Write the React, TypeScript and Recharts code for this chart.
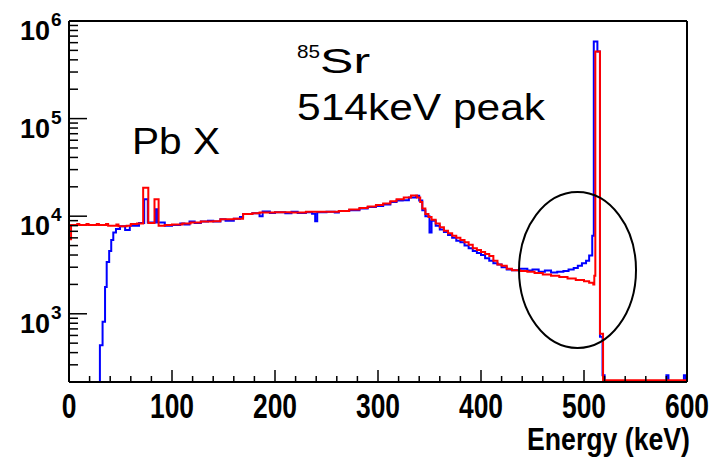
import React from 'react';
import { LineChart, Line, XAxis, YAxis, ReferenceDot } from 'recharts';

// Histogram bin starts (keV) and counts
const blueEnergy = [30, 30, 32.6, 35, 36.6, 39, 41, 43, 45.6, 49.5, 54.5, 59, 68, 73, 76.5, 84, 86, 93, 100, 108, 112, 117, 122, 128, 135, 140, 147, 152, 160, 166, 169, 178, 185, 188, 195, 200, 210, 216, 222, 230, 236, 239, 241, 250, 258, 262, 272, 282, 290, 298, 305, 312, 318, 324, 330, 337, 340, 343, 346, 350, 352, 356, 360, 364, 368, 372, 376, 380, 384, 388, 392, 396, 400, 404, 408, 412, 416, 420, 425, 430, 438, 445, 450, 456, 462, 468, 474, 480, 485, 490, 494, 498, 502, 505, 508, 509.5, 513, 515.5, 518, 520, 580, 582, 597, 599, 600];
const blueCounts = [200, 475, 830, 1880, 3400, 4400, 5700, 6800, 7400, 7900, 7200, 8000, 8500, 14900, 8600, 11800, 8600, 8000, 8100, 8400, 8200, 8800, 8500, 8800, 9000, 8800, 9300, 9000, 9400, 9800, 10500, 10700, 10000, 11200, 10800, 11000, 10700, 11100, 10800, 11000, 10600, 8900, 11000, 11100, 10900, 11300, 11500, 12000, 12400, 12700, 13200, 14000, 14500, 14600, 15500, 16200, 14500, 11500, 10000, 6800, 9000, 8000, 7300, 6900, 6400, 6000, 5600, 5400, 5000, 4700, 4400, 4200, 4000, 3700, 3500, 3300, 3200, 3000, 2850, 2800, 2900, 2780, 2850, 2700, 2780, 2650, 2700, 2750, 2850, 2950, 3100, 3300, 3500, 3950, 6300, 615000, 487000, 580, 234, 200, 234, 200, 234, 200, 200];

const redEnergy = [0, 2, 8, 10, 17, 19, 27, 29, 36, 38, 46, 48, 56, 60, 66, 72, 77, 83, 87, 93, 100, 110, 118, 128, 140, 147, 160, 169, 178, 185, 200, 215, 230, 250, 262, 272, 282, 290, 298, 305, 312, 318, 325, 332, 338, 341, 343, 346, 349, 352, 356, 360, 364, 368, 372, 376, 380, 384, 388, 392, 396, 400, 404, 408, 412, 416, 420, 425, 430, 438, 445, 452, 460, 468, 476, 484, 492, 500, 505, 509, 510, 511, 515.5, 518.5, 600];
const redCounts = [5800, 8100, 8300, 8100, 8300, 8100, 8300, 8100, 8300, 8000, 8200, 7900, 8000, 8300, 8400, 19600, 8500, 14900, 8000, 8100, 8200, 8400, 8600, 8800, 8900, 9300, 9400, 10500, 10700, 10900, 11000, 10900, 11100, 11100, 11300, 11700, 12100, 12600, 13000, 13500, 14200, 14900, 15500, 16300, 15500, 14000, 12000, 10500, 9800, 9200, 8400, 7700, 7100, 6700, 6300, 6000, 5700, 5400, 5100, 4700, 4500, 4300, 4100, 3900, 3500, 3200, 3100, 2900, 2800, 2750, 2700, 2620, 2520, 2450, 2380, 2300, 2220, 2150, 2080, 2000, 2450, 487000, 625, 209, 209];

const xTicks = [0, 20, 40, 60, 80, 100, 120, 140, 160, 180, 200, 220, 240, 260, 280, 300, 320, 340, 360, 380, 400, 420, 440, 460, 480, 500, 520, 540, 560, 580, 600];
const xLabelValues = [0, 100, 200, 300, 400, 500, 600];
const yTicks = [200, 300, 400, 500, 600, 700, 800, 900, 1000, 2000, 3000, 4000, 5000, 6000, 7000, 8000, 9000, 10000, 20000, 30000, 40000, 50000, 60000, 70000, 80000, 90000, 100000, 200000, 300000, 400000, 500000, 600000, 700000, 800000, 900000, 1000000];
const yDecades = [1000, 10000, 100000, 1000000];

const blueData = blueEnergy.map((e, i) => ({ e, v: blueCounts[i] }));
const redData = redEnergy.map((e, i) => ({ e, v: redCounts[i] }));

const SANS = "'Liberation Sans', Arial, sans-serif";

const XTick = (props: any) => {
  const { x, y, payload } = props;
  const v = payload.value;
  const major = xLabelValues.includes(v);
  const label = String(v);
  return (
    <g>
      <line x1={x} x2={x} y1={y} y2={y - (major ? 12 : 6)} stroke="#000" strokeWidth={1.5} />
      {major && (
        <text
          x={x - (label.length * 14.7) / 2}
          y={y + 36}
          textAnchor="start"
          fontFamily={SANS}
          fontWeight="bold"
          fontSize={35}
          fill="#000"
          textLength={label.length * 14.7}
          lengthAdjust="spacingAndGlyphs"
        >
          {label}
        </text>
      )}
    </g>
  );
};

const YTick = (props: any) => {
  const { x, y, payload } = props;
  const v = payload.value;
  const major = yDecades.includes(v);
  const exp = Math.round(Math.log10(v));
  return (
    <g>
      <line x1={x} x2={x + (major ? 18 : 9)} y1={y} y2={y} stroke="#000" strokeWidth={1.5} />
      {major && (
        <g>
          <text x={x - 19} y={y + 19} textAnchor="end" fontFamily={SANS} fontWeight="bold" fontSize={27} fill="#000">10</text>
          <text x={x - 18} y={y + 5} textAnchor="start" fontFamily={SANS} fontWeight="bold" fontSize={19} fill="#000">{exp}</text>
        </g>
      )}
    </g>
  );
};

const AxisTitle = (props: any) => {
  const vb = props.viewBox || {};
  const right = vb.x + vb.width + 3;
  return (
    <text x={right - 163} y={382 + 68} textAnchor="start" fontFamily={SANS} fontWeight="bold" fontSize={31} fill="#000" textLength={163} lengthAdjust="spacingAndGlyphs">
      Energy (keV)
    </text>
  );
};

const textShape = (content: React.ReactNode) => (p: any) => (
  <g transform={`translate(${p.cx},${p.cy})`}>{content}</g>
);

export default function App() {
  return (
    <div style={{ position: 'absolute', left: 0, top: 0, width: 720, height: 466, background: '#fff' }}>
      <LineChart width={720} height={466} margin={{ top: 20, right: 32, bottom: 83, left: 68 }}>
        <XAxis
          dataKey="e"
          type="number"
          domain={[0, 600]}
          allowDataOverflow
          ticks={xTicks}
          interval={0}
          tick={<XTick />}
          tickLine={false}
          tickSize={0}
          tickMargin={0}
          height={1}
          axisLine={{ stroke: '#000', strokeWidth: 2 }}
          label={<AxisTitle />}
        />
        <XAxis xAxisId="top" orientation="top" dataKey="e" type="number" domain={[0, 600]} tick={false} tickLine={false} height={1} axisLine={{ stroke: '#000', strokeWidth: 2 }} />
        <YAxis
          dataKey="v"
          type="number"
          scale="log"
          domain={[200, 1000000]}
          allowDataOverflow
          ticks={yTicks}
          interval={0}
          tick={<YTick />}
          tickLine={false}
          tickSize={0}
          tickMargin={0}
          width={1}
          axisLine={{ stroke: '#000', strokeWidth: 2 }}
        />
        <YAxis yAxisId="right" orientation="right" tick={false} tickLine={false} width={1} axisLine={{ stroke: '#000', strokeWidth: 2 }} />
        <Line data={blueData} dataKey="v" type="stepAfter" stroke="#0000ff" strokeWidth={2} dot={false} isAnimationActive={false} />
        <Line data={redData} dataKey="v" type="stepAfter" stroke="#ff0000" strokeWidth={2} dot={false} isAnimationActive={false} />
        <ReferenceDot
          x={493.7}
          y={2810}
          ifOverflow="visible"
          shape={(p: any) => <ellipse cx={p.cx} cy={p.cy} rx={58.5} ry={78} fill="none" stroke="#000" strokeWidth={2} />}
        />
        <ReferenceDot
          x={61.2}
          y={42900}
          ifOverflow="visible"
          shape={textShape(
            <text x={0} y={0} fontFamily={SANS} fontSize={36} fill="#000" textLength={88} lengthAdjust="spacingAndGlyphs">Pb X</text>
          )}
        />
        <ReferenceDot
          x={221.4}
          y={292000}
          ifOverflow="visible"
          shape={textShape(
            <g>
              <text x={0} y={-15} fontFamily={SANS} fontSize={19} fill="#000" textLength={23} lengthAdjust="spacingAndGlyphs">85</text>
              <text x={23} y={0} fontFamily={SANS} fontSize={35} fill="#000" textLength={50} lengthAdjust="spacingAndGlyphs">Sr</text>
            </g>
          )}
        />
        <ReferenceDot
          x={221.4}
          y={97700}
          ifOverflow="visible"
          shape={textShape(
            <text x={0} y={0} fontFamily={SANS} fontSize={37} fill="#000" textLength={248} lengthAdjust="spacingAndGlyphs">514keV peak</text>
          )}
        />
      </LineChart>
    </div>
  );
}
